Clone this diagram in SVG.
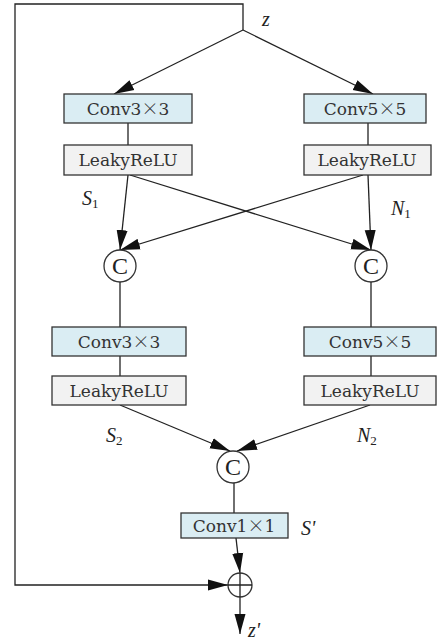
<svg xmlns="http://www.w3.org/2000/svg" width="437" height="643" viewBox="0 0 437 643">
<style>
.conv{fill:#daedf3;stroke:#333;stroke-width:1.3}
.act{fill:#f2f2f2;stroke:#333;stroke-width:1.3}
.op{fill:#fff;stroke:#333;stroke-width:1.3}
.ln{fill:none;stroke:#222;stroke-width:1.3}
.arr{fill:none;stroke:#222;stroke-width:1.3;marker-end:url(#ah)}
.t{font-family:"DejaVu Serif","Liberation Serif",serif;font-size:17px;fill:#333;text-anchor:middle}
.x{font-family:"Noto Sans CJK SC",sans-serif;font-weight:300}
.c{font-family:"Liberation Serif",serif;font-size:24px;fill:#222;text-anchor:middle}
.v{font-family:"Liberation Serif",serif;font-style:italic;font-size:20px;fill:#222}
.s{font-size:13px;font-style:normal}
</style>
<defs>
<marker id="ah" markerUnits="userSpaceOnUse" markerWidth="20" markerHeight="12" refX="20" refY="6" orient="auto" viewBox="0 0 20 12">
<path d="M0,0.5 L20,6 L0,11.5 z" fill="#111"/>
</marker>
</defs>
<g id="connectors">
<path class="arr" d="M243,30 V4 H15 V585 H228"/>
<path class="arr" d="M243,30 L114,94"/>
<path class="arr" d="M243,30 L373,94"/>
<path class="ln" d="M128,123 V145"/>
<path class="ln" d="M368,123 V145"/>
<path class="arr" d="M128,175 L120,250"/>
<path class="arr" d="M130,175 L371,250"/>
<path class="arr" d="M363,175 L120,250"/>
<path class="arr" d="M368,175 L371,250"/>
<path class="ln" d="M120,282 V327"/>
<path class="ln" d="M371,282 V327"/>
<path class="ln" d="M120,356 V376"/>
<path class="ln" d="M371,356 V376"/>
<path class="arr" d="M120,405 L230,451"/>
<path class="arr" d="M370,405 L237,451"/>
<path class="ln" d="M234,483 V513"/>
<path class="arr" d="M236,538 L240,573"/>
<path class="arr" d="M240,597 V634"/>
</g>
<g id="conv3a"><rect class="conv" x="64" y="94" width="128" height="29"/><text class="t" x="128" y="115">Conv3<tspan class="x">×</tspan>3</text></g>
<g id="conv5a"><rect class="conv" x="304" y="94" width="122" height="29"/><text class="t" x="365" y="115">Conv5<tspan class="x">×</tspan>5</text></g>
<g id="relu1a"><rect class="act" x="64" y="145" width="128" height="30"/><text class="t" x="128" y="166">LeakyReLU</text></g>
<g id="relu1b"><rect class="act" x="304" y="145" width="127" height="30"/><text class="t" x="367" y="166">LeakyReLU</text></g>
<g id="cat1"><circle class="op" cx="120" cy="266" r="16"/><text class="c" x="120" y="274">C</text></g>
<g id="cat2"><circle class="op" cx="371" cy="266" r="16"/><text class="c" x="371" y="274">C</text></g>
<g id="conv3b"><rect class="conv" x="52" y="327" width="134" height="29"/><text class="t" x="119" y="348">Conv3<tspan class="x">×</tspan>3</text></g>
<g id="conv5b"><rect class="conv" x="304" y="327" width="132" height="29"/><text class="t" x="370" y="348">Conv5<tspan class="x">×</tspan>5</text></g>
<g id="relu2a"><rect class="act" x="52" y="376" width="134" height="29"/><text class="t" x="119" y="397">LeakyReLU</text></g>
<g id="relu2b"><rect class="act" x="304" y="376" width="132" height="29"/><text class="t" x="370" y="397">LeakyReLU</text></g>
<g id="cat3"><circle class="op" cx="233" cy="467" r="16"/><text class="c" x="233" y="475">C</text></g>
<g id="conv1"><rect class="conv" x="181" y="513" width="107" height="25"/><text class="t" x="234" y="532">Conv1<tspan class="x">×</tspan>1</text></g>
<g id="add"><circle class="op" cx="240" cy="585" r="12"/><path class="ln" d="M228,585 H252 M240,573 V597"/></g>
<g id="labels">
<text class="v" x="262" y="26">z</text>
<text class="v" x="82" y="205">S<tspan class="s" dy="3">1</tspan></text>
<text class="v" x="391" y="215">N<tspan class="s" dy="3">1</tspan></text>
<text class="v" x="106" y="442">S<tspan class="s" dy="3">2</tspan></text>
<text class="v" x="357" y="442">N<tspan class="s" dy="3">2</tspan></text>
<text class="v" x="301" y="535">S'</text>
<text class="v" x="248" y="637">z'</text>
</g>
</svg>
